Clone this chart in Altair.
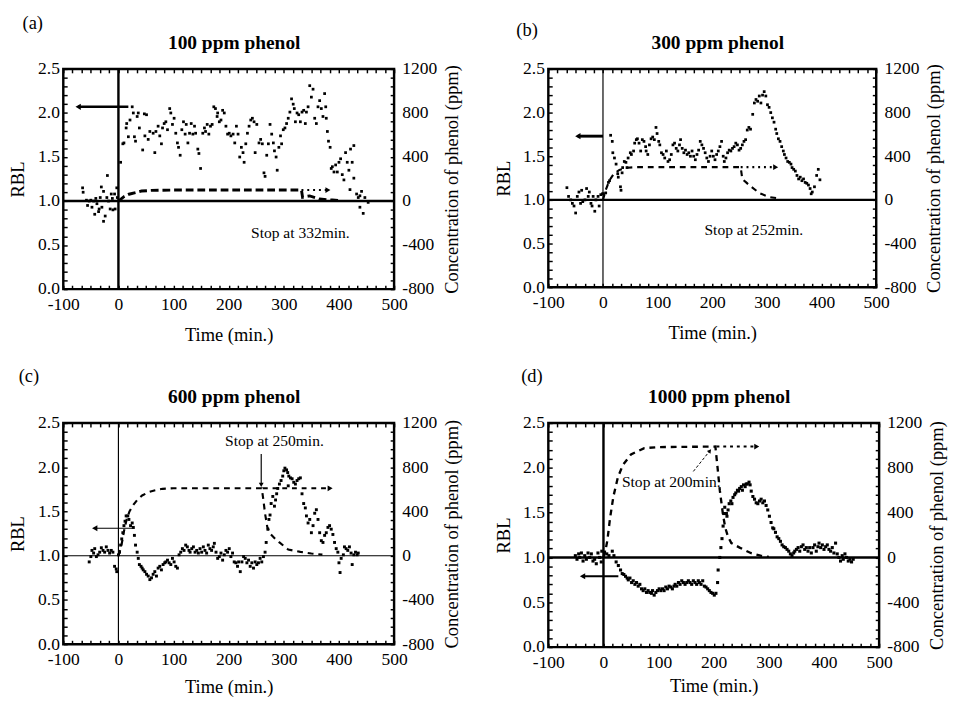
import altair as alt
import pandas as pd

FONT = "Liberation Serif"

# ---------------- data ----------------
X_TICKS = [-100, 0, 100, 200, 300, 400, 500]
RBL_TICKS = [0.0, 0.5, 1.0, 1.5, 2.0, 2.5]
CONC_TICKS = [-800, -400, 0, 400, 800, 1200]
X_MINOR = [-100 + i * 100 / 6 for i in range(37)]
Y_MINOR = [i / 10 for i in range(26)]

# (a) 100 ppm phenol
A_T = [-65, -64, -58, -56, -53, -50, -48, -45, -43, -41,
       -39, -36, -35, -33, -31, -30, -27, -27, -24, -21,
       -20, -18, -15, -13, -11, -10, -7, -6, -3, -2,
       4, 8, 10, 14, 15, 18, 21, 25, 27, 29,
       31, 34, 36, 38, 44, 47, 48, 51, 54, 57,
       63, 66, 68, 72, 75, 78, 80, 83, 86, 89,
       93, 95, 98, 101, 104, 107, 109, 112, 115, 118,
       121, 123, 126, 129, 132, 135, 138, 140, 144, 146,
       149, 153, 156, 158, 161, 164, 167, 170, 173, 176,
       179, 180, 183, 186, 189, 192, 195, 198, 201, 204,
       208, 211, 214, 217, 220, 223, 226, 228, 231, 234,
       237, 240, 243, 246, 248, 251, 255, 258, 261, 264,
       266, 269, 272, 275, 278, 281, 283, 286, 288, 291,
       294, 296, 299, 302, 305, 308, 311, 314, 317, 319,
       321, 324, 327, 330, 333, 336, 339, 341, 344, 347,
       350, 353, 356, 359, 362, 365, 368, 371, 374, 376,
       377, 379, 381, 384, 386, 388, 391, 394, 397, 400,
       403, 406, 409, 412, 415, 418, 421, 424, 427, 427,
       420, 432, 435, 438, 441, 438, 444, 447, 453]
A_RBL = [1.15, 1.10, 1.01, 0.95, 1.00, 1.01, 0.93, 1.00, 0.85, 1.03,
         0.97, 0.88, 0.91, 1.04, 1.16, 0.93, 1.11, 0.77, 0.83, 1.04,
         1.29, 1.00, 0.91, 1.08, 1.03, 0.90, 1.08, 0.91, 1.15, 1.04,
         1.44, 1.65, 1.66, 1.83, 1.88, 1.73, 1.92, 2.07, 2.00, 1.73,
         1.68, 1.96, 2.00, 1.83, 1.58, 1.99, 1.74, 1.98, 1.70, 1.79,
         1.77, 1.55, 1.79, 1.85, 1.74, 1.65, 1.83, 1.88, 1.90, 1.81,
         2.05, 2.00, 1.87, 1.94, 1.77, 1.66, 1.61, 1.52, 1.81, 1.90,
         1.76, 1.87, 1.66, 1.77, 1.88, 1.76, 1.85, 1.77, 1.59, 1.54,
         1.37, 1.77, 1.83, 1.79, 1.87, 1.76, 1.85, 1.87, 2.07, 2.05,
         1.96, 2.00, 1.90, 1.92, 2.03, 2.00, 1.85, 1.76, 1.77, 1.74,
         1.76, 1.66, 1.85, 1.76, 1.50, 1.61, 1.55, 1.44, 1.65, 1.77,
         1.85, 1.92, 1.94, 1.90, 1.55, 1.87, 1.66, 1.70, 1.65, 1.32,
         1.28, 1.52, 1.65, 1.87, 1.76, 1.66, 1.57, 1.50, 1.35, 1.61,
         1.74, 1.65, 1.81, 1.83, 1.88, 1.94, 2.01, 2.16, 2.10, 2.05,
         1.90, 2.00, 1.98, 1.90, 2.01, 2.03, 1.88, 2.01, 2.07, 2.31,
         2.18, 2.27, 1.94, 1.88, 2.07, 2.14, 2.05, 1.96, 2.22, 2.07,
         1.94, 1.79, 1.68, 1.61, 1.37, 1.39, 1.33, 1.41, 1.33, 1.44,
         1.48, 1.30, 1.24, 1.55, 1.44, 1.35, 1.59, 1.44, 1.63, 1.26,
         1.13, 1.08, 1.04, 1.06, 1.11, 0.93, 0.86, 1.04, 0.985]
A_CONC_T = [0, 10, 19, 42, 60, 100, 200, 300, 332, 334, 347, 365, 388, 400]
A_CONC = [0, 40, 62, 91, 97, 100, 100, 100, 100, 35, 47, 18, 9, 5]

# (b) 300 ppm phenol
B_T = [-66, -63, -59, -56, -53, -50, -47, -44, -41, -39,
       -37, -33, -30, -27, -25, -22, -20, -18, -15, -13,
       -9, -7, -4, -1, 1, 5, 10, 12, 14, 17,
       18, 21, 24, 27, 28, 32, 33, 35, 36, 39,
       42, 44, 46, 50, 52, 56, 58, 61, 63, 66,
       69, 72, 75, 78, 79, 82, 85, 88, 91, 94,
       97, 99, 102, 104, 107, 110, 113, 116, 119, 122,
       125, 128, 131, 134, 137, 140, 142, 145, 148, 151,
       154, 157, 160, 163, 166, 169, 172, 175, 178, 181,
       184, 187, 190, 193, 196, 199, 202, 205, 208, 211,
       214, 217, 220, 222, 225, 228, 231, 234, 237, 240,
       243, 246, 249, 252, 255, 258, 261, 264, 267, 270,
       274, 277, 280, 283, 286, 289, 292, 295, 298, 301,
       304, 307, 310, 313, 316, 318, 321, 324, 327, 330,
       332, 335, 338, 341, 344, 346, 349, 352, 355, 358,
       361, 364, 367, 370, 373, 376, 379, 381, 383, 387,
       391, 394, 397]
B_RBL = [1.14, 1.04, 1.00, 0.96, 0.93, 0.85, 1.04, 1.09, 0.96, 1.11,
         0.98, 1.00, 1.13, 1.04, 1.09, 0.96, 0.93, 1.04, 0.87, 1.00,
         1.04, 0.93, 1.06, 1.07, 1.07, 1.08, 1.20, 1.22, 1.74, 1.67,
         1.54, 1.48, 1.41, 1.30, 1.26, 1.15, 1.11, 1.31, 1.37, 1.44,
         1.43, 1.37, 1.48, 1.54, 1.52, 1.56, 1.65, 1.69, 1.70, 1.65,
         1.56, 1.69, 1.67, 1.61, 1.56, 1.52, 1.63, 1.70, 1.72, 1.69,
         1.83, 1.76, 1.67, 1.63, 1.54, 1.52, 1.48, 1.56, 1.44, 1.46,
         1.52, 1.63, 1.65, 1.59, 1.56, 1.63, 1.69, 1.59, 1.54, 1.57,
         1.52, 1.54, 1.50, 1.56, 1.50, 1.46, 1.52, 1.57, 1.67, 1.63,
         1.59, 1.54, 1.48, 1.44, 1.50, 1.56, 1.50, 1.46, 1.52, 1.56,
         1.61, 1.67, 1.50, 1.44, 1.48, 1.54, 1.57, 1.56, 1.59, 1.61,
         1.65, 1.63, 1.57, 1.59, 1.63, 1.67, 1.69, 1.80, 1.83, 1.81,
         1.98, 2.11, 2.15, 2.13, 2.19, 2.11, 2.20, 2.24, 2.19, 2.09,
         2.06, 2.00, 1.94, 1.89, 1.81, 1.76, 1.70, 1.67, 1.61, 1.56,
         1.52, 1.48, 1.44, 1.43, 1.41, 1.37, 1.35, 1.33, 1.28, 1.24,
         1.26, 1.22, 1.24, 1.20, 1.19, 1.17, 1.13, 1.07, 1.09, 1.15,
         1.28, 1.35, 1.23]
B_CONC_T = [0, 5, 12, 20, 30, 45, 60, 100, 200, 252, 255, 262, 270, 287, 305, 325]
B_CONC = [0, 90, 180, 240, 275, 295, 300, 300, 300, 300, 190, 160, 125, 60, 25, 12]

# (c) 600 ppm phenol
C_T = [-53, -50, -48, -45, -43, -40, -37, -34, -31, -28,
       -25, -22, -19, -16, -13, -10, -7, -4, -3, 0,
       2, 4, 6, 8, 10, 12, 14, 17, 19, 22,
       25, 27, 29, 31, 34, 36, 38, 41, 43, 45,
       48, 51, 54, 57, 60, 63, 66, 69, 72, 75,
       78, 81, 84, 86, 89, 92, 95, 98, 101, 104,
       107, 110, 113, 116, 119, 122, 125, 128, 130, 133,
       136, 139, 142, 145, 148, 151, 154, 157, 160, 163,
       166, 169, 172, 174, 177, 180, 183, 186, 189, 192,
       195, 198, 201, 204, 207, 210, 213, 216, 218, 221,
       224, 227, 230, 233, 236, 239, 242, 245, 248, 251,
       254, 257, 260, 263, 266, 268, 271, 273, 275, 277,
       280, 283, 285, 287, 289, 292, 295, 298, 300, 302,
       305, 307, 309, 312, 315, 318, 321, 324, 327, 330,
       308, 333, 336, 339, 341, 344, 347, 350, 353, 356,
       359, 362, 365, 368, 371, 374, 377, 380, 383, 386,
       389, 392, 395, 398, 400, 402, 404, 408, 410, 413,
       416, 419, 422, 424, 427, 430, 433, 435]
C_RBL = [0.93, 0.99, 1.06, 1.03, 1.08, 0.99, 1.01, 1.04, 1.09, 1.06,
         1.04, 1.10, 1.06, 1.03, 1.06, 1.04, 0.88, 0.85, 0.82, 1.01,
         1.04, 1.12, 1.19, 1.26, 1.34, 1.39, 1.45, 1.45, 1.41, 1.34,
         1.37, 1.32, 1.23, 1.12, 1.04, 0.97, 0.90, 0.88, 0.86, 0.84,
         0.82, 0.79, 0.77, 0.73, 0.75, 0.79, 0.82, 0.77, 0.86, 0.88,
         0.84, 0.90, 0.92, 0.93, 0.95, 0.92, 0.90, 0.97, 0.93, 0.88,
         0.86, 1.01, 1.04, 1.08, 1.06, 1.12, 1.10, 1.06, 1.04, 1.08,
         1.10, 1.04, 1.06, 1.03, 1.08, 1.04, 1.10, 1.06, 1.03, 1.12,
         1.08, 1.06, 1.10, 1.14, 1.04, 0.97, 0.99, 1.03, 0.95, 1.01,
         1.06, 1.04, 1.08, 0.99, 1.03, 0.93, 0.92, 0.88, 0.93, 0.82,
         0.93, 0.99, 0.97, 0.92, 0.95, 0.88, 0.92, 0.86, 0.93, 0.90,
         0.92, 0.97, 0.93, 0.99, 1.04, 1.15, 1.30, 1.41, 1.46, 1.59,
         1.67, 1.56, 1.63, 1.70, 1.76, 1.81, 1.85, 1.90, 1.96, 1.99,
         1.97, 1.94, 1.90, 1.88, 1.87, 1.83, 1.81, 1.85, 1.87, 1.88,
         1.79, 1.70, 1.59, 1.54, 1.45, 1.37, 1.41, 1.26, 1.34, 1.48,
         1.52, 1.41, 1.26, 1.17, 1.15, 1.23, 1.26, 1.32, 1.34, 1.30,
         1.24, 1.15, 1.08, 1.04, 0.92, 0.81, 0.97, 1.01, 1.10, 1.08,
         1.06, 1.10, 1.03, 0.90, 1.01, 1.04, 1.01, 1.03]
C_CONC_T = [0, 5, 10, 15, 20, 27, 35, 43, 55, 65, 80, 100, 200, 260,
            263, 266, 270, 275, 285, 292, 308, 330, 350, 370]
C_CONC = [0, 80, 220, 330, 400, 460, 510, 545, 575, 590, 605, 610, 610, 610,
          500, 380, 260, 200, 150, 120, 56, 35, 20, 10]

# (d) 1000 ppm phenol
D_T = [-51, -48, -45, -43, -40, -37, -34, -31, -28, -25,
       -22, -19, -16, -13, -10, -7, -4, -3, 2, 6,
       10, 16, 19, 23, 27, 31, 34, 37, 40, 43,
       45, 48, 51, 54, 57, 60, 63, 66, 69, 72,
       75, 78, 81, 84, 87, 89, 92, 95, 98, 101,
       104, 107, 110, 113, 116, 119, 122, 125, 128, 130,
       133, 136, 139, 142, 145, 148, 151, 154, 157, 160,
       163, 166, 169, 172, 174, 177, 180, 183, 186, 189,
       192, 195, 198, 201, 204, 207, 208, 211, 213, 215,
       217, 218, 220, 223, 224, 226, 228, 231, 233, 235,
       238, 240, 243, 245, 247, 250, 252, 254, 257, 259,
       261, 264, 266, 268, 271, 274, 277, 280, 283, 286,
       289, 292, 295, 298, 301, 304, 307, 309, 312, 315,
       318, 321, 324, 327, 330, 333, 336, 339, 342, 345,
       347, 350, 353, 356, 359, 362, 365, 368, 371, 374,
       377, 380, 383, 386, 389, 391, 394, 397, 400, 403,
       406, 409, 412, 415, 418, 421, 424, 427, 430, 433,
       435, 438, 441, 444, 447, 450, 453]
D_RBL = [1.02, 0.98, 1.04, 1.00, 1.05, 0.96, 1.02, 0.98, 1.05, 1.00,
         1.04, 0.96, 0.98, 0.93, 1.05, 1.00, 0.95, 1.07, 1.06, 1.04,
         1.02, 1.07, 1.02, 0.95, 0.91, 0.86, 0.82, 0.81, 0.79, 0.77,
         0.75, 0.77, 0.72, 0.74, 0.70, 0.72, 0.68, 0.70, 0.65, 0.63,
         0.65, 0.61, 0.63, 0.61, 0.60, 0.63, 0.58, 0.61, 0.63, 0.65,
         0.63, 0.65, 0.63, 0.67, 0.65, 0.68, 0.67, 0.65, 0.68, 0.70,
         0.68, 0.72, 0.70, 0.74, 0.72, 0.70, 0.72, 0.74, 0.72, 0.70,
         0.74, 0.72, 0.70, 0.74, 0.72, 0.70, 0.74, 0.68, 0.67, 0.65,
         0.63, 0.61, 0.60, 0.58, 0.60, 0.72, 0.86, 1.00, 1.11, 1.21,
         1.35, 1.49, 1.56, 1.49, 1.46, 1.53, 1.60, 1.63, 1.60, 1.67,
         1.70, 1.72, 1.75, 1.74, 1.77, 1.79, 1.75, 1.81, 1.79, 1.82,
         1.82, 1.84, 1.81, 1.74, 1.68, 1.65, 1.61, 1.60, 1.63, 1.65,
         1.61, 1.63, 1.58, 1.53, 1.46, 1.39, 1.33, 1.32, 1.28, 1.23,
         1.21, 1.18, 1.14, 1.12, 1.11, 1.09, 1.07, 1.04, 1.02, 1.05,
         1.07, 1.09, 1.11, 1.07, 1.12, 1.14, 1.09, 1.11, 1.07, 1.11,
         1.05, 1.11, 1.14, 1.07, 1.12, 1.16, 1.11, 1.14, 1.09, 1.12,
         1.14, 1.09, 1.07, 1.11, 1.05, 1.16, 1.04, 1.00, 0.96, 1.02,
         0.98, 1.04, 1.00, 0.96, 0.98, 0.95, 0.98]
D_CONC_T = [0, 4, 7, 12, 18, 26, 35, 50, 74, 100, 203, 207, 211, 217, 221,
            226, 232, 247, 267, 285, 300]
D_CONC = [0, 72, 150, 352, 544, 712, 824, 920, 976, 985, 990, 800, 600, 376, 264,
          184, 128, 88, 40, 16, 5]

PANELS = [
    dict(letter="(a)", title="100 ppm phenol", t=A_T, r=A_RBL, ct=A_CONC_T, cv=A_CONC,
         dash=[8, 4], dash_w=3, cont=(332, 380, 100), cont_dash=[2, 4],
         larrow=(18, -73, 2.07), aw=2.5, hw=2.5, vw=2.5, ms=8, height=227, width=341,
         notes=[(330, 0.63, "Stop at 332min.")], vline=None, sarrow=None,
         lab_dx=-42, lab_dy=-47, xtp=13),
    dict(letter="(b)", title="300 ppm phenol", t=B_T, r=B_RBL, ct=B_CONC_T, cv=B_CONC,
         dash=[6, 5], dash_w=2.2, cont=(252, 316, 300), cont_dash=[2, 4],
         larrow=(0, -46, 1.73), aw=3, hw=2.5, vw=1.2, ms=8, height=225, width=338,
         notes=[(276, 0.65, "Stop at 252min.")], vline=None, sarrow=None,
         lab_dx=-33, lab_dy=-40, xtp=13),
    dict(letter="(c)", title="600 ppm phenol", t=C_T, r=C_RBL, ct=C_CONC_T, cv=C_CONC,
         dash=[6, 5], dash_w=2.2, cont=(262, 384, 610), cont_dash=[5, 5],
         larrow=(29, -43, 1.31), aw=1.2, hw=1.2, vw=1.2, ms=9, height=228, width=341,
         notes=[(283, 2.29, "Stop at 250min.")], vline=(259, 2.15, 1.80), sarrow=None,
         lab_dx=-46, lab_dy=-48, xtp=10),
    dict(letter="(d)", title="1000 ppm phenol", t=D_T, r=D_RBL, ct=D_CONC_T, cv=D_CONC,
         dash=[6, 5], dash_w=2.4, cont=(205, 278, 990), cont_dash=[3, 4],
         larrow=(27, -38, 0.79), aw=2, hw=2.5, vw=2.5, ms=10, height=231, width=341,
         notes=[(123, 1.84, "Stop at 200min.")], vline=None, sarrow=(163, 1.96, 193, 2.19),
         lab_dx=-28, lab_dy=-48, xtp=6),
]

# ---------------- chart ----------------
XS = alt.Scale(domain=[-100, 500], nice=False, zero=False)
YS = alt.Scale(domain=[0, 2.5], nice=False, zero=False)
CS = alt.Scale(domain=[-800, 1200], nice=False, zero=False)


def x_axis(tp):
    return alt.Axis(orient="bottom", values=X_TICKS, labelExpr="'' + datum.value",
                    title="Time (min.)", ticks=False, domain=False, grid=False,
                    labelPadding=7, titlePadding=tp, labelFlush=False, labelOverlap=False)


Y_AXIS = alt.Axis(orient="left", values=RBL_TICKS, format=".1f", title="RBL",
                  ticks=False, domain=False, grid=False, labelPadding=4,
                  titlePadding=10, labelFlush=False, labelOverlap=False)
C_AXIS = alt.Axis(orient="right", values=CONC_TICKS, labelExpr="'' + datum.value",
                  title="Concentration of phenol (ppm)", titleAngle=270,
                  titleBaseline="top", ticks=False, domain=False, grid=False,
                  labelPadding=8, titlePadding=6, labelFlush=False, labelOverlap=False)
TICK_KW = dict(labels=False, domain=False, grid=False, ticks=True, tickSize=4,
               offset=-4, tickColor="black", tickWidth=1.5, title=None)


def xq(field="t", axis=None):
    return alt.X(f"{field}:Q", scale=XS, axis=axis)


def yq(field="r", axis=None):
    return alt.Y(f"{field}:Q", scale=YS, axis=axis)


def cq(field="c", axis=None):
    return alt.Y(f"{field}:Q", scale=CS, axis=axis)


def panel(p):
    one = pd.DataFrame({"t": [0.0], "r": [1.0]})
    layers = []
    for o in ("top", "bottom"):
        layers.append(alt.Chart(one).mark_point(opacity=0).encode(
            x=xq(axis=alt.Axis(orient=o, values=X_MINOR, **TICK_KW)), y=yq()))
    for o in ("left", "right"):
        layers.append(alt.Chart(one).mark_point(opacity=0).encode(
            x=xq(), y=yq(axis=alt.Axis(orient=o, values=Y_MINOR, **TICK_KW))))
    # zero lines
    layers.append(alt.Chart(pd.DataFrame({"r": [1.0]})).mark_rule(
        color="black", strokeWidth=p["hw"]).encode(y=yq()))
    layers.append(alt.Chart(pd.DataFrame({"t": [0.0]})).mark_rule(
        color="black", strokeWidth=p["vw"]).encode(x=xq()))
    # RBL data
    pts = pd.DataFrame({"t": p["t"], "r": p["r"]})
    layers.append(alt.Chart(pts).mark_square(size=p["ms"], color="black", opacity=1).encode(
        x=xq(axis=x_axis(p["xtp"])), y=yq(axis=Y_AXIS)))
    # concentration
    conc = pd.DataFrame({"t": p["ct"], "c": p["cv"]})
    layers.append(alt.Chart(conc).mark_line(
        color="black", strokeDash=p["dash"], strokeWidth=p["dash_w"]).encode(
        x=xq(), y=cq(axis=C_AXIS)))
    # arrow to right axis
    c0, c1, cl = p["cont"]
    cdf = pd.DataFrame({"t": [c0], "t2": [c1], "c": [cl]})
    layers.append(alt.Chart(cdf).mark_rule(
        color="black", strokeDash=p["cont_dash"], strokeWidth=2.2).encode(
        x=xq(), x2="t2", y=cq()))
    layers.append(alt.Chart(pd.DataFrame({"t": [c1], "c": [cl]})).mark_point(
        shape="triangle-right", filled=True, color="black", opacity=1, size=35).encode(
        x=xq(), y=cq()))
    # arrow to left axis
    l0, l1, ly = p["larrow"]
    ldf = pd.DataFrame({"t": [l0], "t2": [l1], "r": [ly]})
    layers.append(alt.Chart(ldf).mark_rule(color="black", strokeWidth=p["aw"]).encode(
        x=xq(), x2="t2", y=yq()))
    layers.append(alt.Chart(pd.DataFrame({"t": [l1], "r": [ly]})).mark_point(
        shape="triangle-left", filled=True, color="black", opacity=1, size=40).encode(
        x=xq(), y=yq()))
    # stop annotations
    ndf = pd.DataFrame({"t": [n[0] for n in p["notes"]], "r": [n[1] for n in p["notes"]],
                        "txt": [n[2] for n in p["notes"]]})
    layers.append(alt.Chart(ndf).mark_text(fontSize=16, font=FONT, color="black",
                                           baseline="middle").encode(
        x=xq(), y=yq(), text="txt:N"))
    if p["vline"]:
        vt, v0, v1 = p["vline"]
        layers.append(alt.Chart(pd.DataFrame({"t": [vt], "r": [v0], "r2": [v1]})).mark_rule(
            color="black", strokeWidth=1.2).encode(x=xq(), y=yq(), y2="r2"))
        layers.append(alt.Chart(pd.DataFrame({"t": [vt], "r": [v1]})).mark_point(
            shape="triangle-down", filled=True, color="black", opacity=1, size=25).encode(
            x=xq(), y=yq()))
    if p["sarrow"]:
        s0, r0, s1, r1 = p["sarrow"]
        layers.append(alt.Chart(pd.DataFrame({"t": [s0], "t2": [s1], "r": [r0], "r2": [r1]})).mark_rule(
            color="black", strokeWidth=1, strokeDash=[3, 2]).encode(
            x=xq(), x2="t2", y=yq(), y2="r2"))
        layers.append(alt.Chart(pd.DataFrame({"t": [s1], "r": [r1]})).mark_point(
            shape="triangle-up", filled=True, color="black", opacity=1, size=22, angle=38).encode(
            x=xq(), y=yq()))
    # panel title and letter
    tdf = pd.DataFrame({"t": [210], "r": [2.5], "txt": [p["title"]]})
    layers.append(alt.Chart(tdf).mark_text(fontSize=20, fontWeight="bold", font=FONT,
                                           color="black", baseline="middle", dy=-27).encode(
        x=xq(), y=yq(), text="txt:N"))
    ldf2 = pd.DataFrame({"t": [-100], "r": [2.5], "txt": [p["letter"]]})
    layers.append(alt.Chart(ldf2).mark_text(fontSize=19, font=FONT, color="black",
                                            align="left", baseline="middle",
                                            dx=p["lab_dx"], dy=p["lab_dy"]).encode(
        x=xq(), y=yq(), text="txt:N"))
    return alt.layer(*layers).resolve_scale(y="independent").resolve_axis(
        x="independent", y="independent").properties(width=p["width"], height=p["height"])


top = alt.hconcat(panel(PANELS[0]), panel(PANELS[1]), spacing=31)
bottom = alt.hconcat(panel(PANELS[2]), panel(PANELS[3]), spacing=31)
chart = alt.vconcat(top, bottom, spacing=20).properties(
    padding={"left": 0, "top": -6, "right": 0, "bottom": 0}
).configure(font=FONT).configure_view(
    stroke="black", strokeWidth=2.5
).configure_axis(
    labelFont=FONT, titleFont=FONT, labelFontSize=18, titleFontSize=19,
    titleFontWeight="normal", labelColor="black", titleColor="black"
).configure_text(font=FONT)

chart.save("out.html", embed_options={"renderer": "svg", "actions": False})
